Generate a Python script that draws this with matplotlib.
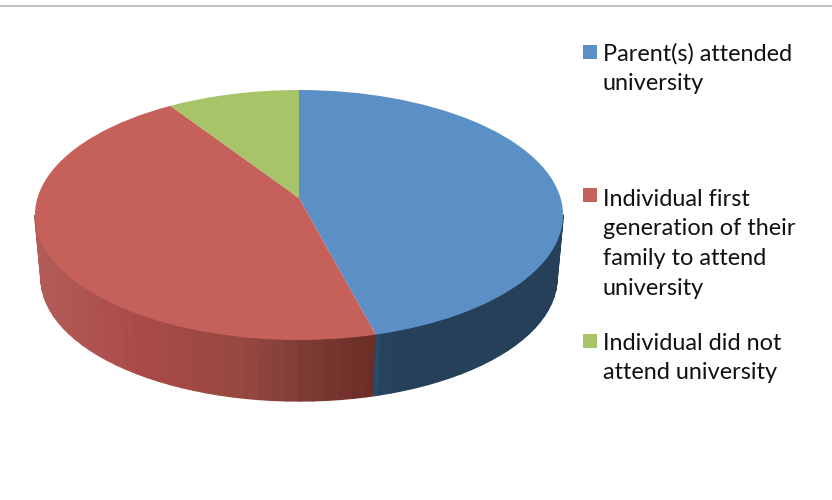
import numpy
import matplotlib
matplotlib.use("Agg")
import matplotlib.pyplot
from matplotlib.collections import PolyCollection
from matplotlib.lines import Line2D
from matplotlib.patches import Rectangle

categories = ["Parent(s) attended\nuniversity",
              "Individual first\ngeneration of their\nfamily to attend\nuniversity",
              "Individual did not\nattend university"]
values = [45.3, 46.6, 8.1]
colors = ["#5b90c7", "#c6605b", "#a8c468"]

# shading of the side wall, by position along the pie (-1 left, 1 right)
wall_stops = [-1.0, -0.6, -0.2, 0.0, 0.28, 0.285, 0.35, 1.0]
wall_red = [(178, 92, 88), (170, 74, 72), (150, 72, 64), (128, 60, 56), (108, 46, 38), (108, 46, 38), (108, 46, 38), (108, 46, 38)]
wall_blue = [(38, 64, 90), (38, 64, 90), (38, 64, 90), (38, 64, 90), (40, 78, 108), (40, 78, 108), (38, 64, 90), (38, 64, 90)]

W, H = 832, 500
cx, cy, rx, ry = 299, 215, 264, 125
apex_y = 198
bottom_cy, bottom_rx, bottom_ry = 278, 258, 123

figure = matplotlib.pyplot.figure(figsize=(W / 100, H / 100), dpi=100)
axis = figure.add_axes([0, 0, 1, 1])
wedges, _ = axis.pie(values, colors=colors, startangle=90, counterclock=False, radius=1, center=(0, 0),
                     wedgeprops={"linewidth": 0, "zorder": 3})

# the perspective moves the point of the slices up from the middle of the ellipse
for wedge in wedges:
    vertices = wedge.get_path().vertices
    vertices[numpy.all(numpy.abs(vertices) < 1e-9, axis=1), 1] = (cy - apex_y) / ry

# squash the unit circle into the ellipse
axis.set_aspect("auto")
axis.set_xlim(-cx / rx, (W - cx) / rx)
axis.set_ylim((cy - H) / ry, cy / ry)
axis.set_axis_off()


def shade(table, c):
    return [numpy.interp(c, wall_stops, [t[i] for t in table]) / 255 for i in range(3)]


# side wall, split where blue and red meet
boundary = numpy.pi / 2 - 2 * numpy.pi * values[0] / sum(values)
polygons = []
shades = []
edges = numpy.linspace(-numpy.pi, 0, 61)
edges = numpy.sort(numpy.append(edges, boundary))
for a, b in zip(edges[:-1], edges[1:]):
    t = numpy.array([a, b])
    top_x, top_y = numpy.cos(t), numpy.sin(t)
    low_x = numpy.cos(t) * bottom_rx / rx
    low_y = (numpy.sin(t) * bottom_ry - (bottom_cy - cy)) / ry
    polygons.append([(top_x[0], top_y[0]), (top_x[1], top_y[1]), (low_x[1], low_y[1]), (low_x[0], low_y[0])])
    mid = numpy.cos((a + b) / 2)
    shades.append(shade(wall_red if (a + b) / 2 < boundary else wall_blue, mid))
axis.add_collection(PolyCollection(polygons, facecolors=shades, edgecolors=shades, linewidths=1.0, zorder=1))

# rule across the top
figure.add_artist(Line2D([0, 1], [1 - 5.5 / H, 1 - 5.5 / H], color="#b0b0b0", linewidth=1.1))

# legend
line_baselines = [[61, 90], [206, 235, 265, 295], [350, 379]]
square_tops = [45, 188, 334]
for name, color, baselines, top in zip(categories, colors, line_baselines, square_tops):
    figure.add_artist(Rectangle((583 / W, 1 - (top + 14) / H), 14 / W, 14 / H, color=color,
                                transform=figure.transFigure, linewidth=0))
    for line, baseline in zip(name.split("\n"), baselines):
        figure.text(603 / W, 1 - baseline / H, line, family="Lato", fontsize=16.9,
                    color="#111111", va="baseline", ha="left")

figure.savefig("out.png", dpi=100)
